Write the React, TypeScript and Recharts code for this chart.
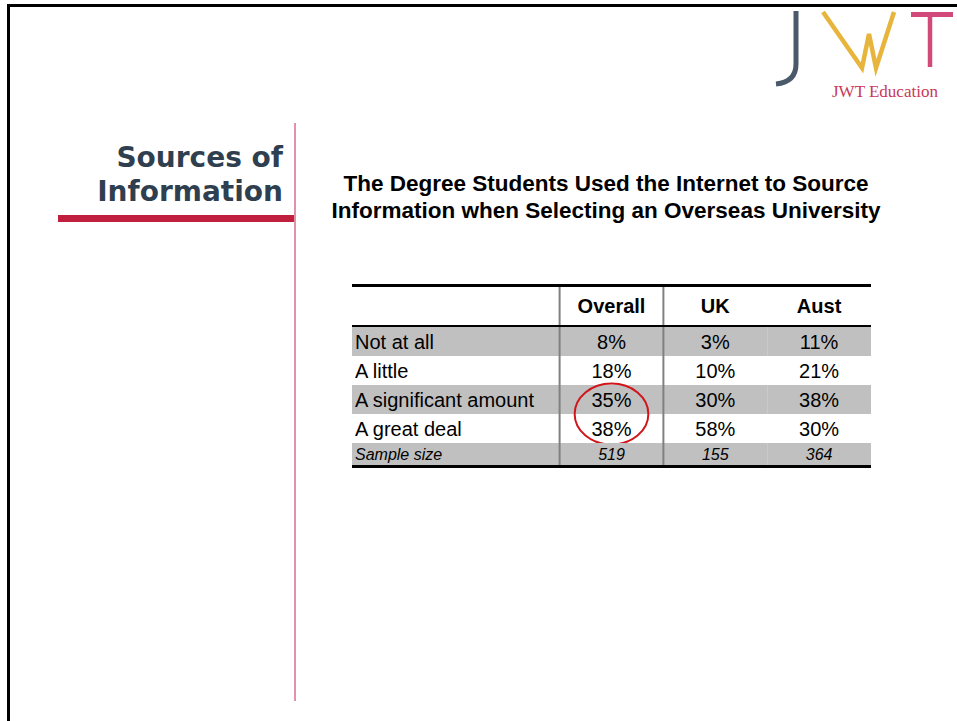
import { ComposedChart, Bar, Cell, LabelList, XAxis, YAxis, ReferenceLine } from 'recharts';

// ---- data ----
const COLUMNS = ['Overall', 'UK', 'Aust'];
const ROWS = ['Not at all', 'A little', 'A significant amount', 'A great deal'];
const OVERALL = [8, 18, 35, 38];
const UK = [3, 10, 30, 58];
const AUST = [11, 21, 38, 30];
const SAMPLE_LABEL = 'Sample size';
const SAMPLE = [519, 155, 364];
// the red ring circles Overall for these two rows
const CIRCLED = ['A significant amount', 'A great deal'];

const TITLE = ['The Degree Students Used the Internet to Source', 'Information when Selecting an Overseas University'];

const GREY = '#c0c0c0';
const FONT = '"Liberation Sans", Arial, sans-serif';
const TABLE_W = 519;

type Line = { id: string; label: string; cells: string[] };

// text renderer for a table cell (LabelList content)
const cellText = (anchor: 'start' | 'middle', style: { size: number; weight?: string; italic?: boolean }) =>
  (props: any) => {
    const vb = props.viewBox || {};
    const x = props.x ?? vb.x;
    const y = props.y ?? vb.y;
    const w = props.width ?? vb.width;
    const h = props.height ?? vb.height;
    if (props.value == null || props.value === '') return null;
    return (
      <text
        x={anchor === 'start' ? x + 3 : x + w / 2}
        y={y + h / 2}
        dy="0.36em"
        textAnchor={anchor}
        fill="#000"
        fontFamily={FONT}
        fontSize={style.size}
        fontWeight={style.weight ?? 'normal'}
        fontStyle={style.italic ? 'italic' : 'normal'}
      >
        {props.value}
      </text>
    );
  };

// ring drawn from the first circled cell, spanning it and the row below
const ring = (props: any) => {
  if (!props.value) return null;
  const vb = props.viewBox || {};
  const x = props.x ?? vb.x;
  const y = props.y ?? vb.y;
  const w = props.width ?? vb.width;
  const h = props.height ?? vb.height;
  return (
    <ellipse cx={x + w / 2} cy={y + h} rx={w * 0.355} ry={h + 1.5}
      fill="none" stroke="#d0161b" strokeWidth={2} />
  );
};

function TableBlock({ lines, height, fills, size, weight, italic }: {
  lines: Line[];
  height: number;
  fills: string[];
  size: number;
  weight?: string;
  italic?: boolean;
}) {
  // label column is twice as wide as each value column
  const data = lines.map((l) => ({
    id: l.id, s0: 2, s1: 1, s2: 1, s3: 1,
    t0: l.label, t1: l.cells[0], t2: l.cells[1], t3: l.cells[2],
    ring: l.id === CIRCLED[0] ? 1 : 0,
  }));
  const style = { size, weight, italic };

  return (
    <ComposedChart width={TABLE_W} height={height} data={data} layout="vertical"
      margin={{ top: 0, right: 0, bottom: 0, left: 0 }} barCategoryGap={0}
      style={{ overflow: 'visible' }}>
      <XAxis type="number" domain={[0, 5]} hide />
      <YAxis type="category" dataKey="id" hide />
      <ReferenceLine x={2} stroke="#808080" strokeWidth={2} />
      <ReferenceLine x={3} stroke="#808080" strokeWidth={2} />
      {['s0', 's1', 's2', 's3'].map((k, ci) => (
        <Bar key={k} dataKey={k} stackId="t" isAnimationActive={false}>
          {data.map((_, i) => <Cell key={i} fill={fills[i]} />)}
          <LabelList dataKey={`t${ci}`} content={cellText(ci === 0 ? 'start' : 'middle', style)} />
          {ci === 1 && <LabelList dataKey="ring" content={ring} />}
        </Bar>
      ))}
    </ComposedChart>
  );
}

export default function App() {
  const header: Line[] = [{ id: 'header', label: '', cells: COLUMNS }];
  const body: Line[] = ROWS.map((r, i) => ({
    id: r, label: r, cells: [`${OVERALL[i]}%`, `${UK[i]}%`, `${AUST[i]}%`],
  }));
  const sample: Line[] = [{ id: 'sample', label: SAMPLE_LABEL, cells: SAMPLE.map(String) }];

  return (
    <div style={{ position: 'absolute', left: 0, top: 0, width: 957, height: 721, overflow: 'hidden', background: '#fff', fontFamily: FONT }}>
      {/* slide frame */}
      <div style={{ position: 'absolute', left: 7, top: 4, width: 1000, height: 800, border: '3px solid #000', boxSizing: 'border-box' }} />

      {/* logo */}
      <svg width={957} height={110} style={{ position: 'absolute', left: 0, top: 0 }}>
        <path d="M796 11 L796 64 Q796 82 776 84" fill="none" stroke="#4b5a6a" strokeWidth={5} />
        <polyline points="823,12 862,68 869,34 876,68 894,12" fill="none" stroke="#e8b53c" strokeWidth={4.5} strokeLinejoin="miter" />
        <line x1={911} y1={14.5} x2={953} y2={14.5} stroke="#d24a7a" strokeWidth={5} />
        <line x1={930} y1={14} x2={930} y2={67} stroke="#d24a7a" strokeWidth={4.5} />
        <text x={832} y={97} fontFamily='"Liberation Serif", serif' fontSize={17} fill="#c8385a">JWT Education</text>
      </svg>

      {/* section heading */}
      <div style={{ position: 'absolute', left: 0, top: 141, width: 283, textAlign: 'right', fontFamily: '"DejaVu Sans", Verdana, sans-serif', fontWeight: 'bold', fontSize: 28, lineHeight: '34px', color: '#2f3f4f' }}>
        Sources of<br />Information
      </div>
      <div style={{ position: 'absolute', left: 58, top: 215, width: 237, height: 7, background: '#c0203e' }} />
      <div style={{ position: 'absolute', left: 294, top: 123, width: 2, height: 578, background: '#e391a8' }} />

      {/* chart title */}
      <div style={{ position: 'absolute', left: 256, top: 170, width: 700, textAlign: 'center', fontWeight: 'bold', fontSize: 22.5, lineHeight: '27px', color: '#000' }}>
        {TITLE[0]}<br />{TITLE[1]}
      </div>

      {/* table */}
      <div style={{ position: 'absolute', left: 352, top: 284, width: TABLE_W, borderTop: '3px solid #000', borderBottom: '3px solid #000' }}>
        <div style={{ height: 38, borderBottom: '2px solid #000' }}>
          <TableBlock lines={header} height={38} fills={['#fff']} size={20} weight="bold" />
        </div>
        <div style={{ height: 116, position: 'relative', zIndex: 1 }}>
          <TableBlock lines={body} height={116} fills={[GREY, '#fff', GREY, '#fff']} size={20} />
        </div>
        <div style={{ height: 22 }}>
          <TableBlock lines={sample} height={22} fills={[GREY]} size={16} italic />
        </div>
      </div>
    </div>
  );
}
